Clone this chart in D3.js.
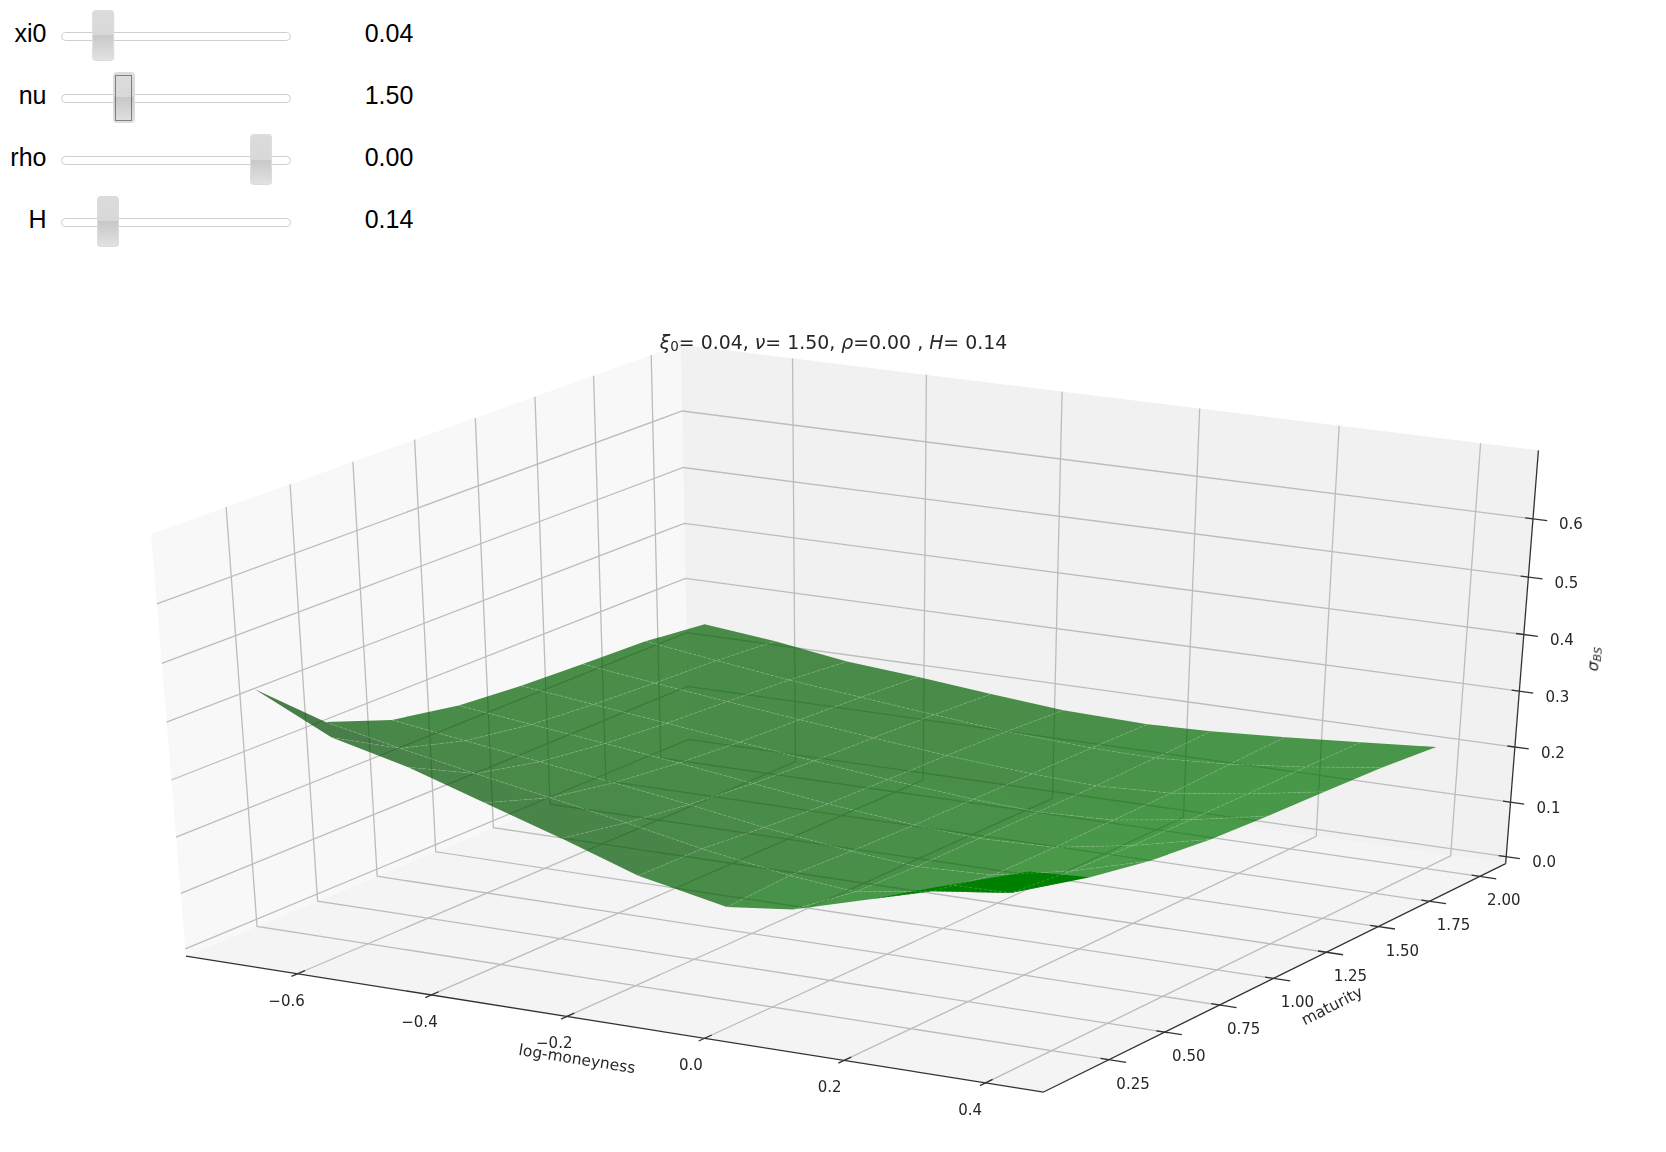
<!DOCTYPE html>
<html><head><meta charset="utf-8">
<script src="https://cdn.jsdelivr.net/npm/d3@7/dist/d3.min.js"></script>
<style>html,body{margin:0;padding:0;background:#fff}svg{display:block}</style>
</head><body><svg id="c" width="1666" height="1152"></svg>
<script>
// ---- slider widgets
const sliderNames = ["xi0","nu","rho","H"];
const sliderValues = [0.04,1.50,0.00,0.14];
const sliderLabels = ["0.04","1.50","0.00","0.14"];
const sliderDomains = [[0.01,0.21],[0.5,4.5],[-1,0.1],[0.05,0.57]];
// ---- axes
const paneX = [-0.769,0.481], paneY = [-0.038,2.13], paneZ = [-0.013,0.716];
const xTicks = [-0.6,-0.4,-0.2,0.0,0.2,0.4];
const yTicks = [0.25,0.5,0.75,1.0,1.25,1.5,1.75,2.0];
const zTicks = [0,0.1,0.2,0.3,0.4,0.5,0.6];
// ---- surface: log-moneyness, maturity, implied vol (rows = maturity)
const moneyness = [-0.669,-0.560,-0.450,-0.341,-0.231,-0.122,0.004,0.098,0.207,0.317,0.426];
const maturity = [0.052,0.317,0.581,0.856,1.12,1.385,1.66,1.924];
const vol0 = [.458,.394,.362,.320,.278,.233,.202,.215,.253,.298,.340];
const vol1 = [.357,.330,.305,.282,.258,.232,.208,.197,.218,.235,.282];
const vol2 = [.316,.298,.280,.262,.243,.222,.203,.193,.198,.225,.262];
const vol3 = [.295,.280,.265,.249,.232,.215,.200,.193,.197,.220,.250];
const vol4 = [.286,.271,.256,.241,.226,.212,.199,.193,.198,.218,.244];
const vol5 = [.281,.265,.250,.236,.222,.209,.198,.193,.199,.217,.240];
const vol6 = [.277,.260,.243,.230,.217,.205,.197,.195,.203,.217,.235];
const vol7 = [.265,.252,.233,.223,.210,.199,.195,.198,.206,.216,.226];
const volRows = [vol0,vol1,vol2,vol3,vol4,vol5,vol6,vol7];

const svg = d3.select("#c");
const defs0 = svg.append("defs");
defs0.append("filter").attr("id","soft").attr("filterUnits","userSpaceOnUse")
  .attr("x",0).attr("y",0).attr("width",1666).attr("height",1152)
  .append("feGaussianBlur").attr("stdDeviation",0.55);
const chart = svg.append("g").attr("filter","url(#soft)");
const font = "'DejaVu Sans'", txt = "#262626";

// ---- projection (elev 30, azim -60, dist 10)
const sx3 = d3.scaleLinear().domain(paneX).range([0,1]);
const sy3 = d3.scaleLinear().domain(paneY).range([0,1]);
const sz3 = d3.scaleLinear().domain(paneZ).range([0,1]);
const screenX = d3.scaleLinear().domain([0,1]).range([856,1846]);
const screenY = d3.scaleLinear().domain([0,1]).range([705.5,223.5]);
const el = 30*Math.PI/180, az = -60*Math.PI/180, dist = 10;
const n = [Math.cos(az)*Math.cos(el), Math.sin(az)*Math.cos(el), Math.sin(el)];
const un = Math.hypot(n[1],n[0]);
const u = [-n[1]/un, n[0]/un, 0];
const v = [n[1]*u[2]-n[2]*u[1], n[2]*u[0]-n[0]*u[2], n[0]*u[1]-n[1]*u[0]];
const dot = (a,b)=>a[0]*b[0]+a[1]*b[1]+a[2]*b[2];
function depth(x,y,z){ return dot(n,[sx3(x)-.5,sy3(y)-.5,sz3(z)-.5]); }
function proj(x,y,z){
  const r=[sx3(x)-.5,sy3(y)-.5,sz3(z)-.5];
  const w=(dist-dot(n,r))/dist;
  return [screenX(dot(u,r)/w), screenY(dot(v,r)/w)];
}
const [x0,x1]=paneX,[y0,y1]=paneY,[z0,z1]=paneZ;
const closed = d3.line().curve(d3.curveLinearClosed);
const open = d3.line();

// ---- panes
const gP = chart.append("g");
const pane = (pts,fill)=>gP.append("path").attr("d",closed(pts.map(p=>proj(...p)))).attr("fill",fill);
pane([[x0,y0,z0],[x0,y1,z0],[x0,y1,z1],[x0,y0,z1]],"#f8f8f8");
pane([[x0,y1,z0],[x1,y1,z0],[x1,y1,z1],[x0,y1,z1]],"#f1f1f1");
pane([[x0,y0,z0],[x1,y0,z0],[x1,y1,z0],[x0,y1,z0]],"#f4f4f4");

// ---- grid
const gG = chart.append("g").attr("fill","none").attr("stroke","#bcbcbc").attr("stroke-width",1.3);
const poly = pts=>gG.append("path").attr("d",open(pts.map(p=>proj(...p))));
xTicks.forEach(x=>poly([[x,y0,z0],[x,y1,z0],[x,y1,z1]]));
yTicks.forEach(y=>poly([[x1,y,z0],[x0,y,z0],[x0,y,z1]]));
zTicks.forEach(z=>poly([[x0,y0,z],[x0,y1,z],[x1,y1,z]]));

// ---- axis lines, ticks, labels
const gA = chart.append("g").attr("fill","none").attr("stroke","#333").attr("stroke-width",1.3);
const aLine = pts=>gA.append("path").attr("d",open(pts.map(p=>proj(...p))));
aLine([[x0,y0,z0],[x1,y0,z0]]);
aLine([[x1,y0,z0],[x1,y1,z0]]);
aLine([[x1,y1,z0],[x1,y1,z1]]);
const label=(p,dx,dy,t)=>chart.append("text").attr("x",p[0]+dx).attr("y",p[1]+dy)
  .attr("text-anchor","middle").attr("dominant-baseline","central")
  .attr("font-family",font).attr("font-size",15).attr("fill",txt).text(t);
const xLabelShift = d3.scaleLinear().domain([-0.6,0.4]).range([-11,-15.5]);
xTicks.forEach(x=>{
  aLine([[x,y0-0.025,z0],[x,y0+0.03,z0]]);
  label(proj(x,y0,z0),xLabelShift(x),27,x.toFixed(1).replace("-","\u2212"));
});
yTicks.forEach(y=>{
  aLine([[x1-0.012,y,z0],[x1+0.024,y,z0]]);
  label(proj(x1,y,z0),24,24,y.toFixed(2));
});
zTicks.forEach(z=>{
  aLine([[x1-0.011,y1,z],[x1+0.02,y1,z]]);
  label(proj(x1,y1,z),38,5.5,z.toFixed(1));
});
const rotText=(x,y,r,t)=>chart.append("text").attr("transform",`translate(${x},${y}) rotate(${r})`)
  .attr("text-anchor","middle").attr("dominant-baseline","central")
  .attr("font-family",font).attr("font-size",15.5).attr("fill",txt).text(t);
rotText(577,1059,9,"log-moneyness");
rotText(1332,1006,-27,"maturity");
const sigma = rotText(1594,659,-85,"");
sigma.append("tspan").attr("font-style","italic").text("\u03c3");
sigma.append("tspan").attr("font-style","italic").attr("font-size",11).attr("dy",3).text("BS");

// ---- surface
const light=[-0.667,-0.667,0.333], zGain=1.7;
const cells=[];
for(let j=0;j<maturity.length-1;j++)for(let i=0;i<moneyness.length-1;i++){
  const c=[[i,j],[i+1,j],[i+1,j+1],[i,j+1]].map(([a,b])=>[moneyness[a],maturity[b],volRows[b][a]]);
  const d1=[c[2][0]-c[0][0],c[2][1]-c[0][1],(c[2][2]-c[0][2])*zGain];
  const d2=[c[3][0]-c[1][0],c[3][1]-c[1][1],(c[3][2]-c[1][2])*zGain];
  const nr=[d1[1]*d2[2]-d1[2]*d2[1],d1[2]*d2[0]-d1[0]*d2[2],d1[0]*d2[1]-d1[1]*d2[0]];
  const L=Math.hypot(...nr), shade=dot(nr,light)/L;
  const s=Math.min(1,0.35+0.7*(shade+1)/2);
  const scr=c.map(p=>proj(...p));
  const area=d3.polygonArea(scr);
  cells.push({scr,s,area,dep:d3.mean(c,p=>depth(...p))});
}
cells.sort((a,b)=>a.dep-b.dep);
const gS=chart.append("g");
gS.selectAll("path").data(cells).join("path")
  .attr("d",d=>closed(d.scr))
  .attr("fill",d=>d.area>0?`rgb(0,${Math.round(128*d.s)},0)`:"rgb(0,128,0)")
  .attr("fill-opacity",d=>d.area>0?0.7:1);
const gSeam=chart.append("g").attr("fill","none").attr("stroke","#dff0df").attr("stroke-opacity",0.22)
  .attr("stroke-width",1).attr("stroke-dasharray","2.5 2.5");
moneyness.forEach((x,i)=>{ if(i>0&&i<moneyness.length-1)
  gSeam.append("path").attr("d",open(maturity.map((y,j)=>proj(x,y,volRows[j][i])))); });
maturity.forEach((y,j)=>{ if(j>0&&j<maturity.length-1)
  gSeam.append("path").attr("d",open(moneyness.map((x,i)=>proj(x,y,volRows[j][i])))); });

// ---- title
const title=chart.append("text").attr("x",833.5).attr("y",342).attr("text-anchor","middle")
  .attr("dominant-baseline","central").attr("font-family",font).attr("font-size",18.9).attr("fill",txt);
title.append("tspan").attr("font-style","italic").text("\u03be");
title.append("tspan").attr("font-size",13.5).attr("dy",4).text("0");
title.append("tspan").attr("dy",-4).text("= 0.04, ");
title.append("tspan").attr("font-style","italic").text("\u03bd");
title.append("tspan").text("= 1.50, ");
title.append("tspan").attr("font-style","italic").text("\u03c1");
title.append("tspan").text("=0.00 , ");
title.append("tspan").attr("font-style","italic").text("H");
title.append("tspan").text("= 0.14");

// ---- sliders
const defs=svg.append("defs");
const g=defs.append("linearGradient").attr("id","hg").attr("x1",0).attr("x2",0).attr("y1",0).attr("y2",1);
[[0,"#dcdcdc"],[.5,"#d8d8d8"],[.5,"#c8c8c8"],[1,"#e2e2e2"]].forEach(([o,c])=>g.append("stop").attr("offset",o).attr("stop-color",c));
const rowY=d3.scaleLinear().domain([0,3]).range([36.5,222.5]);
const gW=svg.append("g");
sliderNames.forEach((name,i)=>{
  const y=rowY(i);
  const pos=d3.scaleLinear().domain(sliderDomains[i]).range([72,280]);
  gW.append("text").attr("x",46.5).attr("y",y-4).attr("text-anchor","end").attr("dominant-baseline","central")
    .attr("font-family","'Liberation Sans'").attr("font-size",25).attr("fill","#000").text(name);
  gW.append("rect").attr("x",61.5).attr("y",y-4).attr("width",229).attr("height",8).attr("rx",4)
    .attr("fill","#fff").attr("stroke","#cfcfcf");
  const c=pos(sliderValues[i]);
  gW.append("rect").attr("x",c-10.5).attr("y",y-26).attr("width",21).attr("height",50).attr("rx",3)
    .attr("fill","url(#hg)").attr("stroke","#dcdcdc");
  if(name==="nu") gW.append("rect").attr("x",c-8.5).attr("y",y-23).attr("width",16).attr("height",45)
    .attr("fill","none").attr("stroke","#222").attr("stroke-width",1).attr("stroke-dasharray","1 1");
  gW.append("text").attr("x",389).attr("y",y-4).attr("text-anchor","middle").attr("dominant-baseline","central")
    .attr("font-family","'Liberation Sans'").attr("font-size",25).attr("fill","#000").text(sliderLabels[i]);
});
</script></body></html>
